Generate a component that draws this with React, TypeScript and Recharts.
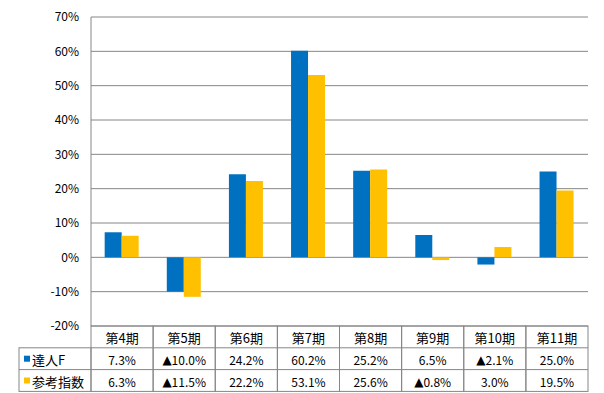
import { Bar, BarChart, CartesianGrid, XAxis, YAxis } from "recharts";

// 期ごとの騰落率（%）。マイナスは表で ▲ 表記
const periods = ["第4期", "第5期", "第6期", "第7期", "第8期", "第9期", "第10期", "第11期"];
const tatsujinF = [7.3, -10.0, 24.2, 60.2, 25.2, 6.5, -2.1, 25.0];
const sankouShisuu = [6.3, -11.5, 22.2, 53.1, 25.6, -0.8, 3.0, 19.5];
const seriesNames = ["達人F", "参考指数"];
const seriesColors = ["#0070C0", "#FFC000"];
const yTicks = [-20, -10, 0, 10, 20, 30, 40, 50, 60, 70];

const W = 604;
const H = 393;
const M = { top: 17, right: 16, bottom: 0, left: 0 };
const Y_AXIS_W = 91;
const TABLE_H = 67;
const CELL_W = (W - Y_AXIS_W - M.right) / periods.length;
const ROW_H = 21.8;
const LABEL_COL_W = 72;
const GRID = "#868686";
const FONT = "'Noto Sans CJK JP', 'Noto Sans', sans-serif";

const data = periods.map((p, i) => ({ name: p, a: tatsujinF[i], b: sankouShisuu[i] }));
const seriesValues = [tatsujinF, sankouShisuu];

function Value({ v }: { v: number }) {
  if (v >= 0) return <>{`${v.toFixed(1)}%`}</>;
  return (
    <>
      <tspan fontFamily="'DejaVu Sans', sans-serif" fontSize={12}>
        ▲
      </tspan>
      {`${Math.abs(v).toFixed(1)}%`}
    </>
  );
}

function TableTick(props: any) {
  const { x, y, payload } = props;
  const i: number = payload.index;
  const left = x - CELL_W / 2;
  const rowY = [y, y + ROW_H, y + ROW_H * 2, y + ROW_H * 3];
  return (
    <g fontFamily={FONT} fill="#000">
      {/* cell borders */}
      <rect x={left} y={rowY[0]} width={CELL_W} height={ROW_H * 3} fill="none" stroke={GRID} />
      <line x1={left} x2={left + CELL_W} y1={rowY[1]} y2={rowY[1]} stroke={GRID} />
      <line x1={left} x2={left + CELL_W} y1={rowY[2]} y2={rowY[2]} stroke={GRID} />
      <text x={x} y={rowY[0] + ROW_H / 2 + 1} textAnchor="middle" dominantBaseline="central" fontSize={13}>
        {payload.value}
      </text>
      {seriesValues.map((vals, s) => (
        <text
          key={s}
          x={x}
          y={rowY[s + 1] + ROW_H / 2 + 1}
          textAnchor="middle"
          dominantBaseline="central"
          fontSize={12}
        >
          <Value v={vals[i]} />
        </text>
      ))}
      {/* legend column, drawn once next to the first period */}
      {i === 0 && (
        <g>
          <rect
            x={left - LABEL_COL_W}
            y={rowY[1]}
            width={LABEL_COL_W}
            height={ROW_H * 2}
            fill="none"
            stroke={GRID}
          />
          <line x1={left - LABEL_COL_W} x2={left} y1={rowY[2]} y2={rowY[2]} stroke={GRID} />
          {seriesNames.map((n, s) => (
            <g key={n}>
              <rect x={left - LABEL_COL_W + 5} y={rowY[s + 1] + ROW_H / 2 - 3} width={6} height={6} fill={seriesColors[s]} />
              <text
                x={left - LABEL_COL_W + 13}
                y={rowY[s + 1] + ROW_H / 2 + 1}
                dominantBaseline="central"
                fontSize={13}
              >
                {n}
              </text>
            </g>
          ))}
        </g>
      )}
    </g>
  );
}

export default function App() {
  return (
    <div style={{ position: "absolute", left: 0, top: 0, width: W, height: H, background: "#fff" }}>
      <BarChart width={W} height={H} data={data} margin={M} barCategoryGap="22%" barGap={0}>
        <CartesianGrid horizontal vertical={false} stroke={GRID} strokeWidth={1} />
        <XAxis
          dataKey="name"
          height={TABLE_H}
          axisLine={false}
          tickLine={false}
          tickSize={0}
          tickMargin={0}
          interval={0}
          tick={<TableTick />}
        />
        <YAxis
          width={Y_AXIS_W}
          domain={[-20, 70]}
          ticks={yTicks}
          interval={0}
          tickFormatter={(v: number) => `${v}%`}
          axisLine={{ stroke: GRID }}
          tickLine={false}
          tickSize={0}
          tickMargin={12}
          tick={{ fill: "#000", fontSize: 12, fontFamily: FONT }}
        />
        <Bar dataKey="a" name={seriesNames[0]} fill={seriesColors[0]} isAnimationActive={false} />
        <Bar dataKey="b" name={seriesNames[1]} fill={seriesColors[1]} isAnimationActive={false} />
      </BarChart>
    </div>
  );
}
